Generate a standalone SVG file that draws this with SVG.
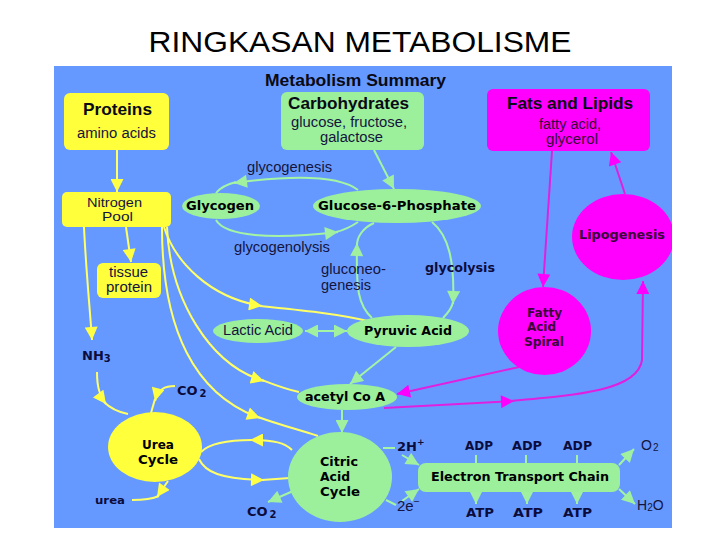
<svg xmlns="http://www.w3.org/2000/svg" width="720" height="540" viewBox="0 0 720 540">
<style>
.t{font-family:"Liberation Sans",Arial,sans-serif;fill:#14143c}
.h{font-family:"Liberation Sans",Arial,sans-serif;font-weight:bold;fill:#0a0a14}
.b{font-family:"DejaVu Sans",Verdana,sans-serif;font-weight:bold;fill:#000}
.bn{font-family:"DejaVu Sans",Verdana,sans-serif;font-weight:bold;fill:#0c0c3c}
.m{fill:#3a003a}
.yl{fill:#ffff3c}
.gr{fill:#9cf09c}
.mg{fill:#ff00ff}
.ly{fill:none;stroke:#ffff66;stroke-width:2}
.lg{fill:none;stroke:#a4f4a4;stroke-width:2}
.lm{fill:none;stroke:#e020e0;stroke-width:2}
.ay{marker-end:url(#ay)}
.ag{marker-end:url(#ag)}
.am{marker-end:url(#am)}
</style>
<defs>
<marker id="ay" viewBox="0 0 12 12" refX="12" refY="6" markerWidth="14" markerHeight="13" markerUnits="userSpaceOnUse" orient="auto"><path d="M0,0 L12,6 L0,12 z" fill="#ffff44"/></marker>
<marker id="ag" viewBox="0 0 12 12" refX="12" refY="6" markerWidth="14" markerHeight="13" markerUnits="userSpaceOnUse" orient="auto-start-reverse"><path d="M0,0 L12,6 L0,12 z" fill="#a0f0a0"/></marker>
<marker id="am" viewBox="0 0 12 12" refX="12" refY="6" markerWidth="14" markerHeight="13" markerUnits="userSpaceOnUse" orient="auto"><path d="M0,0 L12,6 L0,12 z" fill="#ff00ff"/></marker>
<clipPath id="panelClip"><rect x="54" y="66" width="618" height="462"/></clipPath>
</defs>
<rect width="720" height="540" fill="#fff"/>
<text x="360" y="52" text-anchor="middle" font-family="Liberation Sans, Arial, sans-serif" font-size="30" textLength="423" lengthAdjust="spacingAndGlyphs" fill="#000">RINGKASAN METABOLISME</text>
<rect id="panel" x="54" y="66" width="618" height="462" fill="#6699ff"/>
<text class="h" x="355.5" y="86" text-anchor="middle" font-size="16" textLength="181" lengthAdjust="spacingAndGlyphs">Metabolism Summary</text>

<g id="connectors">
<!-- yellow -->
<path class="ly ay" d="M117,150 L117,192"/>
<path class="ly ay" d="M126,227 L131,262"/>
<path class="ly ay" d="M84,227 C86,270 90,310 92,340"/>
<path class="ly ay" d="M97,372 C97,388 100,396 106,404"/>
<path class="ly" d="M104,402 C110,408 118,412 128,414"/>
<path class="ly ay" d="M175,386 C165,386 158,389 155,401"/>
<path class="ly" d="M155,399 L151,413"/>
<path class="ly ay" d="M168,481 L157,497"/>
<path class="ly" d="M159,496 Q150,500 132,500"/>
<path class="ly ay" d="M164,227 C175,262 210,298 262,306"/>
<path class="ly" d="M260,306 C300,310 340,314 372,322"/>
<path class="ly ay" d="M167,227 C170,300 210,365 264,381"/>
<path class="ly" d="M262,380 C275,385 285,389 299,392"/>
<path class="ly ay" d="M162,227 C162,330 195,395 260,418"/>
<path class="ly" d="M258,417 C280,425 300,430 318,436"/>
<path class="ly ay" d="M292,450 C285,443 275,440 250,440"/>
<path class="ly" d="M252,440 C230,440 210,443 201,452"/>
<path class="ly ay" d="M199,459 C205,472 220,479 264,480"/>
<path class="ly" d="M262,480 L290,478"/>
<!-- green -->
<path class="lg ag" d="M374,150 L394,189"/>
<path class="lg ag" d="M358,190 C340,176 300,174 234,183"/>
<path class="lg" d="M236,182 C228,184 220,188 216,193"/>
<path class="lg ag" d="M216,220 C225,236 270,240 338,232"/>
<path class="lg" d="M336,232 C345,230 352,226 358,222"/>
<path class="lg ag" d="M372,318 C358,305 356,290 357,243"/>
<path class="lg" d="M357,245 C357,238 362,228 374,223"/>
<path class="lg ag" d="M432,222 C448,235 455,260 453,304"/>
<path class="lg" d="M453,302 C452,308 448,313 443,318"/>
<path class="lg" d="M305,331 L347,331" marker-start="url(#ag)" marker-end="url(#ag)"/>
<path class="lg ag" d="M396,347 L350,384"/>
<path class="lg ag" d="M342,410 L342,433"/>
<path class="lg ag" d="M300,488 L268,502"/>
<path class="lg" d="M383,448 L395,448"/>
<path class="lg ag" d="M402,455 L419,465"/>
<path class="lg" d="M386,500 L396,505"/>
<path class="lg ag" d="M402,501 L419,489"/>
<path class="lg" d="M476,455 L476,463 M526,455 L526,463 M577,455 L577,463"/>
<path class="lg ag" d="M476,492 L476,504"/>
<path class="lg ag" d="M527,492 L527,504"/>
<path class="lg ag" d="M577,492 L577,504"/>
<path class="lg ag" d="M619,465 L634,449"/>
<path class="lg ag" d="M619,489 L635,504"/>
<!-- magenta -->
<path class="lm am" d="M552,151 L543,287"/>
<path class="lm am" d="M625,194 L611,152"/>
<path class="lm am" d="M519,367 L397,394"/>
<path class="lm am" d="M384,408 L514,401"/>
<path class="lm am" d="M510,401 C580,395 638,390 642,360 L643,281"/>
</g>

<g id="proteins">
<rect class="yl" x="64" y="93" width="105" height="57" rx="6"/>
<text class="h" x="117.5" y="115" text-anchor="middle" font-size="17" textLength="69" lengthAdjust="spacingAndGlyphs">Proteins</text>
<text class="t" x="116.5" y="138" text-anchor="middle" font-size="14" textLength="79" lengthAdjust="spacingAndGlyphs">amino acids</text>
</g>
<g id="carbohydrates">
<rect class="gr" x="281" y="92" width="143" height="58" rx="6"/>
<text class="h" x="348.5" y="109" text-anchor="middle" font-size="17" textLength="121" lengthAdjust="spacingAndGlyphs">Carbohydrates</text>
<text class="t" x="349" y="127" text-anchor="middle" font-size="14" textLength="116" lengthAdjust="spacingAndGlyphs">glucose, fructose,</text>
<text class="t" x="351.5" y="142" text-anchor="middle" font-size="14" textLength="63" lengthAdjust="spacingAndGlyphs">galactose</text>
</g>
<g id="fats">
<rect class="mg" x="487" y="89" width="163" height="62" rx="6"/>
<text class="h" x="570" y="109" text-anchor="middle" font-size="17" textLength="126" lengthAdjust="spacingAndGlyphs">Fats and Lipids</text>
<text class="t m" x="570" y="129" text-anchor="middle" font-size="14" textLength="62" lengthAdjust="spacingAndGlyphs">fatty acid,</text>
<text class="t m" x="572" y="144" text-anchor="middle" font-size="14" textLength="52" lengthAdjust="spacingAndGlyphs">glycerol</text>
</g>
<g id="nitrogen-pool">
<rect class="yl" x="62" y="192" width="109" height="35" rx="5"/>
<text class="t" x="114.5" y="207" text-anchor="middle" font-size="13" textLength="55" lengthAdjust="spacingAndGlyphs">Nitrogen</text>
<text class="t" x="117.5" y="221" text-anchor="middle" font-size="13" textLength="31" lengthAdjust="spacingAndGlyphs">Pool</text>
</g>
<g id="glycogen">
<ellipse class="gr" cx="221" cy="206" rx="39" ry="13"/>
<text class="b" x="220" y="210" text-anchor="middle" font-size="12" textLength="68" lengthAdjust="spacingAndGlyphs">Glycogen</text>
</g>
<g id="g6p">
<ellipse class="gr" cx="397" cy="206" rx="84" ry="17"/>
<text class="b" x="397" y="210" text-anchor="middle" font-size="12" textLength="158" lengthAdjust="spacingAndGlyphs">Glucose-6-Phosphate</text>
</g>
<g id="lipogenesis" clip-path="url(#panelClip)">
<ellipse class="mg" cx="623" cy="237" rx="51" ry="43"/>
<text class="b m" x="622" y="239" text-anchor="middle" font-size="12" textLength="86" lengthAdjust="spacingAndGlyphs">Lipogenesis</text>
</g>
<g id="tissue-protein">
<rect class="yl" x="97" y="263" width="64" height="35" rx="6"/>
<text class="t" x="128.5" y="277" text-anchor="middle" font-size="14" textLength="39" lengthAdjust="spacingAndGlyphs">tissue</text>
<text class="t" x="129" y="292" text-anchor="middle" font-size="14" textLength="46" lengthAdjust="spacingAndGlyphs">protein</text>
</g>
<g id="fatty-acid-spiral">
<ellipse class="mg" cx="544.5" cy="331" rx="46.5" ry="44"/>
<text class="b m" x="527" y="317" font-size="12" textLength="35" lengthAdjust="spacingAndGlyphs">Fatty</text>
<text class="b m" x="527" y="331" font-size="12" textLength="29" lengthAdjust="spacingAndGlyphs">Acid</text>
<text class="b m" x="524" y="346" font-size="12" textLength="40" lengthAdjust="spacingAndGlyphs">Spiral</text>
</g>
<g id="lactic-acid">
<ellipse class="gr" cx="258" cy="331" rx="45" ry="12"/>
<text class="t" x="258" y="335" text-anchor="middle" font-size="14" textLength="70" lengthAdjust="spacingAndGlyphs">Lactic Acid</text>
</g>
<g id="pyruvic-acid">
<ellipse class="gr" cx="408" cy="331" rx="61" ry="16"/>
<text class="b" x="408" y="335" text-anchor="middle" font-size="12" textLength="88" lengthAdjust="spacingAndGlyphs">Pyruvic Acid</text>
</g>
<g id="acetyl-coa">
<ellipse class="gr" cx="347" cy="397" rx="50" ry="13"/>
<text class="b" x="345" y="401" text-anchor="middle" font-size="12" textLength="80" lengthAdjust="spacingAndGlyphs">acetyl Co A</text>
</g>
<g id="urea-cycle">
<ellipse class="yl" cx="155" cy="447" rx="47" ry="35"/>
<text class="b" x="158" y="449" text-anchor="middle" font-size="12" textLength="32" lengthAdjust="spacingAndGlyphs">Urea</text>
<text class="b" x="158" y="464" text-anchor="middle" font-size="12" textLength="40" lengthAdjust="spacingAndGlyphs">Cycle</text>
</g>
<g id="citric-acid-cycle">
<ellipse class="gr" cx="340" cy="477" rx="52" ry="45"/>
<text class="b" x="320" y="466" font-size="12.5" textLength="38" lengthAdjust="spacingAndGlyphs">Citric</text>
<text class="b" x="320" y="481" font-size="12.5" textLength="30" lengthAdjust="spacingAndGlyphs">Acid</text>
<text class="b" x="320" y="496" font-size="12.5" textLength="40" lengthAdjust="spacingAndGlyphs">Cycle</text>
</g>
<g id="electron-transport-chain">
<rect class="gr" x="418" y="463" width="202" height="29" rx="8"/>
<text class="b" x="520" y="481" text-anchor="middle" font-size="12" textLength="178" lengthAdjust="spacingAndGlyphs">Electron Transport Chain</text>
</g>

<g id="labels">
<text class="t" x="247" y="172" font-size="14" textLength="85" lengthAdjust="spacingAndGlyphs">glycogenesis</text>
<text class="t" x="234" y="252" font-size="14" textLength="96" lengthAdjust="spacingAndGlyphs">glycogenolysis</text>
<text class="t" x="321" y="274" font-size="14" textLength="65" lengthAdjust="spacingAndGlyphs">gluconeo-</text>
<text class="t" x="321" y="290" font-size="14" textLength="50" lengthAdjust="spacingAndGlyphs">genesis</text>
<text class="bn" x="425" y="272" font-size="12" textLength="70" lengthAdjust="spacingAndGlyphs">glycolysis</text>
<text class="bn" x="82" y="360" font-size="13">NH<tspan font-size="10" dy="2">3</tspan></text>
<text class="bn" x="177" y="395" font-size="13">CO<tspan font-size="10" dx="2" dy="2">2</tspan></text>
<text class="bn" x="95" y="504" font-size="11" textLength="30" lengthAdjust="spacingAndGlyphs">urea</text>
<text class="bn" x="247" y="516" font-size="13">CO<tspan font-size="10" dx="2" dy="2">2</tspan></text>
<text class="bn" x="397" y="451" font-size="13">2H<tspan font-size="9" dy="-6">+</tspan></text>
<text class="t" x="397" y="511" font-size="15">2e<tspan font-size="10" dy="-6">−</tspan></text>
<text class="bn" x="479" y="450" text-anchor="middle" font-size="12" textLength="28" lengthAdjust="spacingAndGlyphs">ADP</text>
<text class="bn" x="527" y="450" text-anchor="middle" font-size="12" textLength="30" lengthAdjust="spacingAndGlyphs">ADP</text>
<text class="bn" x="577.5" y="450" text-anchor="middle" font-size="12" textLength="29" lengthAdjust="spacingAndGlyphs">ADP</text>
<text class="bn" x="480" y="517" text-anchor="middle" font-size="12" textLength="28" lengthAdjust="spacingAndGlyphs">ATP</text>
<text class="bn" x="528" y="517" text-anchor="middle" font-size="12" textLength="30" lengthAdjust="spacingAndGlyphs">ATP</text>
<text class="bn" x="577.5" y="517" text-anchor="middle" font-size="12" textLength="29" lengthAdjust="spacingAndGlyphs">ATP</text>
<text class="t" x="641" y="450" font-size="14">O<tspan font-size="10" dx="1" dy="1">2</tspan></text>
<text class="t" x="637" y="510" font-size="14">H<tspan font-size="10" dy="1">2</tspan><tspan dy="-1">O</tspan></text>
</g>
</svg>
